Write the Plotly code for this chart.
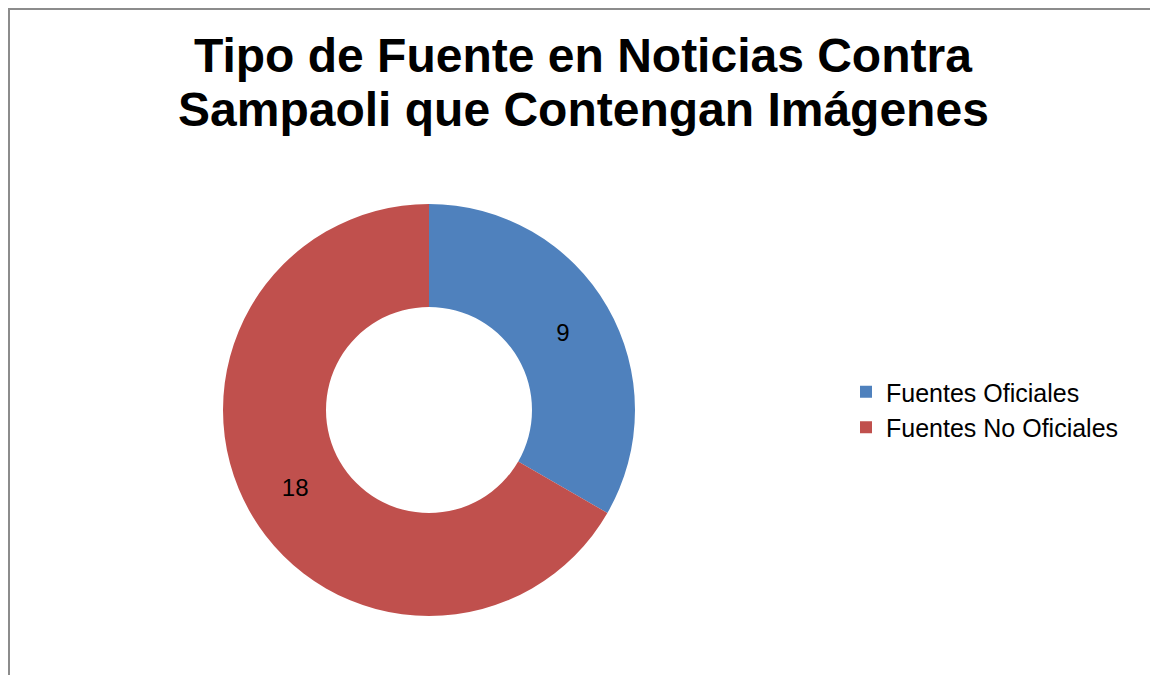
import plotly.graph_objects as go

# datos del gráfico
fuentes = ["Fuentes Oficiales", "Fuentes No Oficiales"]
cantidades = [9, 18]
colores = ["#4F81BD", "#C0504D"]
titulo = ["Tipo de Fuente en Noticias Contra", "Sampaoli que Contengan Imágenes"]

W, H = 1158, 675
FUENTE = "Liberation Sans, Arial"

fig = go.Figure(go.Pie(
    labels=fuentes,
    values=cantidades,
    hole=0.5,
    sort=False,
    direction="clockwise",
    rotation=0,
    marker=dict(colors=colores, line=dict(width=0)),
    textinfo="value",
    textposition="inside",
    insidetextorientation="horizontal",
    textfont=dict(family=FUENTE, size=24, color="black"),
    domain=dict(x=[215 / W, 627 / W], y=[1 - 608 / H, 1 - 196 / H]),
))

# título en dos líneas (anotaciones para controlar el interlineado)
for linea, ypx in zip(titulo, [47.5, 101.5]):
    fig.add_annotation(
        text=f"<b>{linea}</b>", showarrow=False,
        xref="paper", yref="paper",
        x=575 / W, xanchor="center",
        y=1 - ypx / H, yanchor="middle",
        font=dict(size=48, family=FUENTE, color="black"),
    )

fig.update_layout(
    width=W, height=H,
    margin=dict(l=0, r=0, t=0, b=0),
    paper_bgcolor="white",
    plot_bgcolor="white",
    font=dict(family=FUENTE, color="black"),
    legend=dict(
        x=838 / W, xanchor="left",
        y=1 - 401.5 / H, yanchor="middle",
        font=dict(size=25, family=FUENTE, color="black"),
        bgcolor="rgba(0,0,0,0)",
    ),
    showlegend=True,
    shapes=[dict(
        type="rect", xref="paper", yref="paper",
        x0=1 / W, x1=1146 / W, y0=-0.05, y1=1 - 1 / H,
        line=dict(color="#8c8c8c", width=2),
        layer="below",
    )],
)

fig.write_html("out.html")
